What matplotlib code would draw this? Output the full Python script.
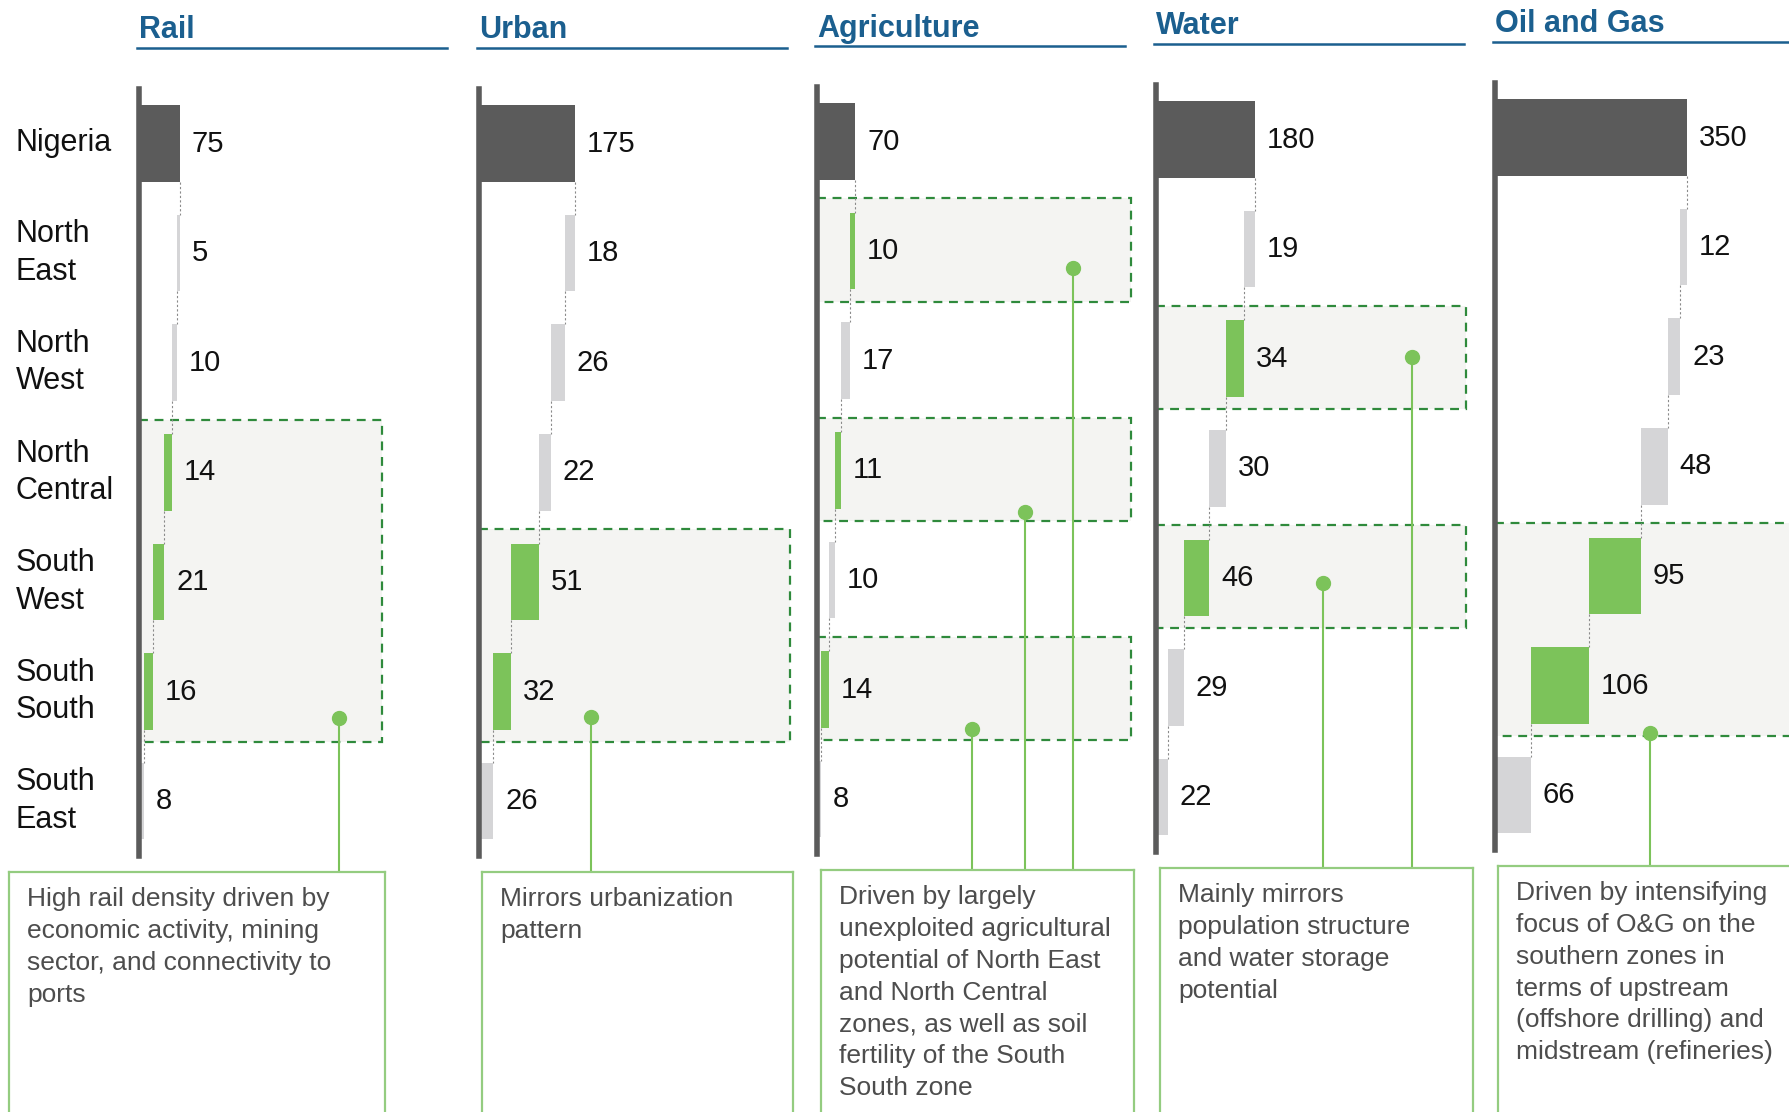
import matplotlib

matplotlib.use("Agg")
import matplotlib.pyplot as plt
from matplotlib.lines import Line2D
from matplotlib.patches import Rectangle
from matplotlib.transforms import blended_transform_factory

plt.rcParams["font.family"] = ["Liberation Sans", "DejaVu Sans"]

# ---- data -----------------------------------------------------------------
regions = ["Nigeria", "North\nEast", "North\nWest", "North\nCentral",
           "South\nWest", "South\nSouth", "South\nEast"]
sectors = ["Rail", "Urban", "Agriculture", "Water", "Oil and Gas"]

rail = [75, 5, 10, 14, 21, 16, 8]
urban = [175, 18, 26, 22, 51, 32, 26]
agriculture = [70, 10, 17, 11, 10, 14, 8]
water = [180, 19, 34, 30, 46, 29, 22]
oil_gas = [350, 12, 23, 48, 95, 106, 66]

# regions drawn in green, and the rows grouped in each dashed box
highlighted = [[3, 4, 5], [4, 5], [1, 3, 5], [2, 4], [4, 5]]
focus_rows = [[(3, 5)], [(4, 5)], [(1, 1), (3, 3), (5, 5)], [(2, 2), (4, 4)], [(4, 5)]]

notes = [
    "High rail density driven by\neconomic activity, mining\nsector, and connectivity to\nports",
    "Mirrors urbanization\npattern",
    "Driven by largely\nunexploited agricultural\npotential of North East\nand North Central\n"
    "zones, as well as soil\nfertility of the South\nSouth zone",
    "Mainly mirrors\npopulation structure\nand water storage\npotential",
    "Driven by intensifying\nfocus of O&G on the\nsouthern zones in\nterms of upstream\n"
    "(offshore drilling) and\nmidstream (refineries)",
]

# ---- layout / style -------------------------------------------------------
W, H = 1790, 1112
PX_PER_UNIT = 0.548
ROW0, ROW_PX = 143.5, 109.6
axis_x = [139, 479, 817, 1156, 1495]
shift = [0, 0, -2, -4, -6]
box_right = [444, 567, 573, 565, 700]
dots = [[(365, 5.24)], [(204, 5.23)], [(467, 1.15), (379, 3.38), (283, 5.36)],
        [(467, 1.98), (304, 4.05)], [(283, 5.43)]]
note_left = [9, 482, 821, 1160, 1498]
note_right = [385, 793, 1134, 1473, 1830]
NOTE_TOP = 872

DARK = "#5b5b5b"
LIGHT = "#d5d5d7"
GREEN = "#7cc35a"
BOX_EDGE = "#2f8a3c"
BOX_FILL = "#f4f4f2"
NOTE_EDGE = "#94cc80"
TEXT_GREY = "#4d4d4d"
BLUE = "#1b5f8f"

fig = plt.figure(figsize=(W / 100, H / 100), dpi=100)
fig.patch.set_facecolor("white")

all_values = [rail, urban, agriculture, water, oil_gas]
y_note = (NOTE_TOP - ROW0) / ROW_PX

for k, vals in enumerate(all_values):
    top_px = ROW0 - 0.5 * ROW_PX + shift[k]
    bot_px = ROW0 + 6.5 * ROW_PX + shift[k]
    ax = fig.add_axes([axis_x[k] / W, 1 - bot_px / H,
                       600 * PX_PER_UNIT / W, (bot_px - top_px) / H])
    ax.set_xlim(0, 600)
    ax.set_ylim(6.5, -0.5)
    ax.set_facecolor("none")
    for s in ["top", "right", "bottom"]:
        ax.spines[s].set_visible(False)
    ax.spines["left"].set_color(DARK)
    ax.spines["left"].set_linewidth(4)
    ax.spines["left"].set_zorder(5)
    ax.set_xticks([])
    ax.set_yticks([])

    # dashed focus boxes
    for r0, r1 in focus_rows[k]:
        ax.add_patch(Rectangle((0, r0 - 0.48), box_right[k], r1 - r0 + 0.94,
                               facecolor=BOX_FILL, edgecolor=BOX_EDGE, lw=1.6,
                               linestyle=(0, (4, 3)), zorder=0.5, clip_on=False))

    # waterfall bars
    total = vals[0]
    ax.barh(0, total, left=0, height=0.7, color=DARK, zorder=2)
    ax.annotate(str(total), (total, 0), xytext=(8.5, 0), textcoords="offset points",
                va="center", ha="left", fontsize=21, color="#111111")
    right = total
    prev_x = total
    for i in range(1, len(vals)):
        v = vals[i]
        left = right - v
        ax.plot([prev_x, prev_x], [i - 1 + 0.35, i - 0.35], color="#8a8a8a",
                lw=0.8, linestyle=(0, (2, 2)), zorder=1)
        ax.barh(i, v, left=left, height=0.7,
                color=GREEN if i in highlighted[k] else LIGHT, zorder=2)
        ax.annotate(str(v), (right, i), xytext=(8.5, 0), textcoords="offset points",
                    va="center", ha="left", fontsize=21, color="#111111")
        prev_x = left
        right = left

    # dots and leader lines
    for dx, dy in dots[k]:
        ax.plot([dx, dx], [dy, y_note], color=GREEN, lw=1.5, clip_on=False, zorder=3)
        ax.plot(dx, dy, "o", ms=10, color=GREEN, clip_on=False, zorder=4)

    # row labels on the first panel
    if k == 0:
        tr = blended_transform_factory(fig.transFigure, ax.transData)
        for i, lab in enumerate(regions):
            ax.text(16 / W, i, lab, transform=tr, ha="left", va="center",
                    fontsize=22, color="#111111", linespacing=1.32)

    # title and underline
    fig.text(axis_x[k] / W, 1 - (30.5 + shift[k]) / H, sectors[k], ha="left",
             va="center", fontsize=22, fontweight="bold", color=BLUE)
    fig.add_artist(Line2D([(axis_x[k] - 2) / W, (axis_x[k] + 308) / W],
                          [1 - (48 + shift[k]) / H] * 2, color=BLUE, lw=1.8))

    # note box
    nt = NOTE_TOP + shift[k]
    nax = fig.add_axes([note_left[k] / W, -0.05,
                        (note_right[k] - note_left[k]) / W, (1 - nt / H) + 0.05])
    nax.set_xticks([])
    nax.set_yticks([])
    nax.set_facecolor("white")
    for s in nax.spines.values():
        s.set_color(NOTE_EDGE)
        s.set_linewidth(1.6)
    nax.annotate(notes[k], (0, 1), xycoords="axes fraction", xytext=(13, -11),
                 textcoords="offset points", ha="left", va="top", fontsize=19,
                 color=TEXT_GREY, linespacing=1.41)

fig.savefig("out.png", dpi=100)
